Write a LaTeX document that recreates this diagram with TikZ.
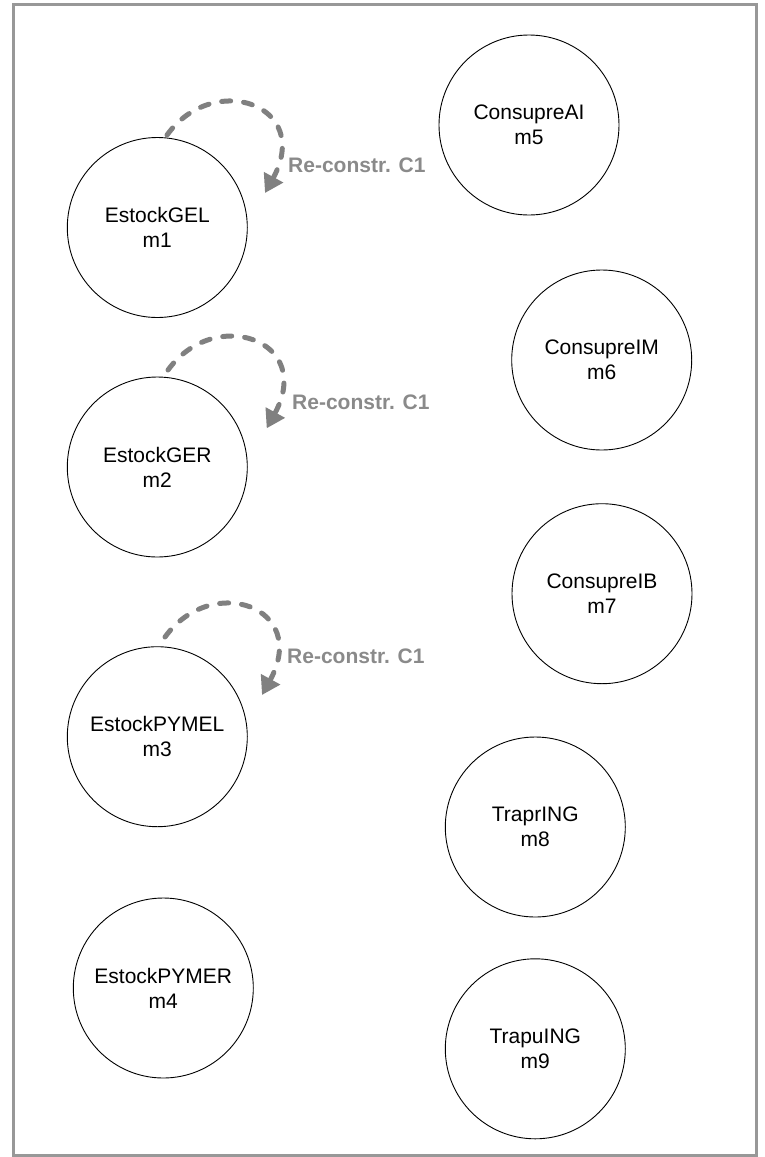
\documentclass[tikz,border=0pt]{standalone}
\usepackage{fontspec}
\setmainfont{Liberation Sans}
\usetikzlibrary{arrows.meta}
\definecolor{framegray}{RGB}{152,152,152}
\definecolor{loopgray}{RGB}{128,128,128}
\definecolor{labelgray}{RGB}{138,138,138}
\tikzset{
  state/.style={circle, draw=black, line width=0.9pt, minimum size=180pt, inner sep=0pt,
    align=center, font=\fontsize{21}{25}\selectfont},
  loopline/.style={draw=loopgray, line width=5pt, line cap=round, dash pattern=on 9pt off 13pt,
    -{Triangle[length=18pt,width=21pt,fill=loopgray,line cap=butt]}},
  looplabel/.style={anchor=west, text=labelgray, inner sep=0pt,
    font=\fontsize{21}{25}\selectfont\bfseries},
  framebox/.style={draw=framegray, line width=3pt}
}
\begin{document}
\begin{tikzpicture}[x=1pt,y=1pt]
\useasboundingbox (0,0) rectangle (764,-1157);
\draw[framebox] (13.5,-4.5) rectangle (756,-1155);

\node[state] (m1) at (157.3,-227.5) {EstockGEL\\m1};
\node[state] (m2) at (157.3,-467) {EstockGER\\m2};
\node[state] (m3) at (157.3,-736.7) {EstockPYMEL\\m3};
\node[state] (m4) at (163.3,-988) {EstockPYMER\\m4};
\node[state] (m5) at (529,-125) {ConsupreAI\\m5};
\node[state] (m6) at (601.7,-360) {ConsupreIM\\m6};
\node[state] (m7) at (602,-593.7) {ConsupreIB\\m7};
\node[state] (m8) at (535.3,-827) {TraprING\\m8};
\node[state] (m9) at (535.3,-1048.8) {TrapuING\\m9};

\coordinate (s1) at ([shift={(9.7,92.5)}]m1.center);
\coordinate (t1) at ([shift={(107.7,34.5)}]m1.center);
\coordinate (s2) at ([shift={(10.7,97)}]m2.center);
\coordinate (t2) at ([shift={(109.4,38.7)}]m2.center);
\coordinate (s3) at ([shift={(7.7,99.7)}]m3.center);
\coordinate (t3) at ([shift={(104.7,41.7)}]m3.center);

\draw[loopline] (s1) .. controls +(47,64.7) and +(48,88) .. (t1);
\draw[loopline] (s2) .. controls +(47,64.7) and +(48,88) .. (t2);
\draw[loopline] (s3) .. controls +(47,64.7) and +(48,88) .. (t3);

\node[looplabel] (l1) at ([shift={(130.7,62.5)}]m1.center) {Re-constr. C1};
\node[looplabel] (l2) at ([shift={(134.7,65)}]m2.center) {Re-constr. C1};
\node[looplabel] (l3) at ([shift={(129.7,80)}]m3.center) {Re-constr. C1};
\end{tikzpicture}
\end{document}
